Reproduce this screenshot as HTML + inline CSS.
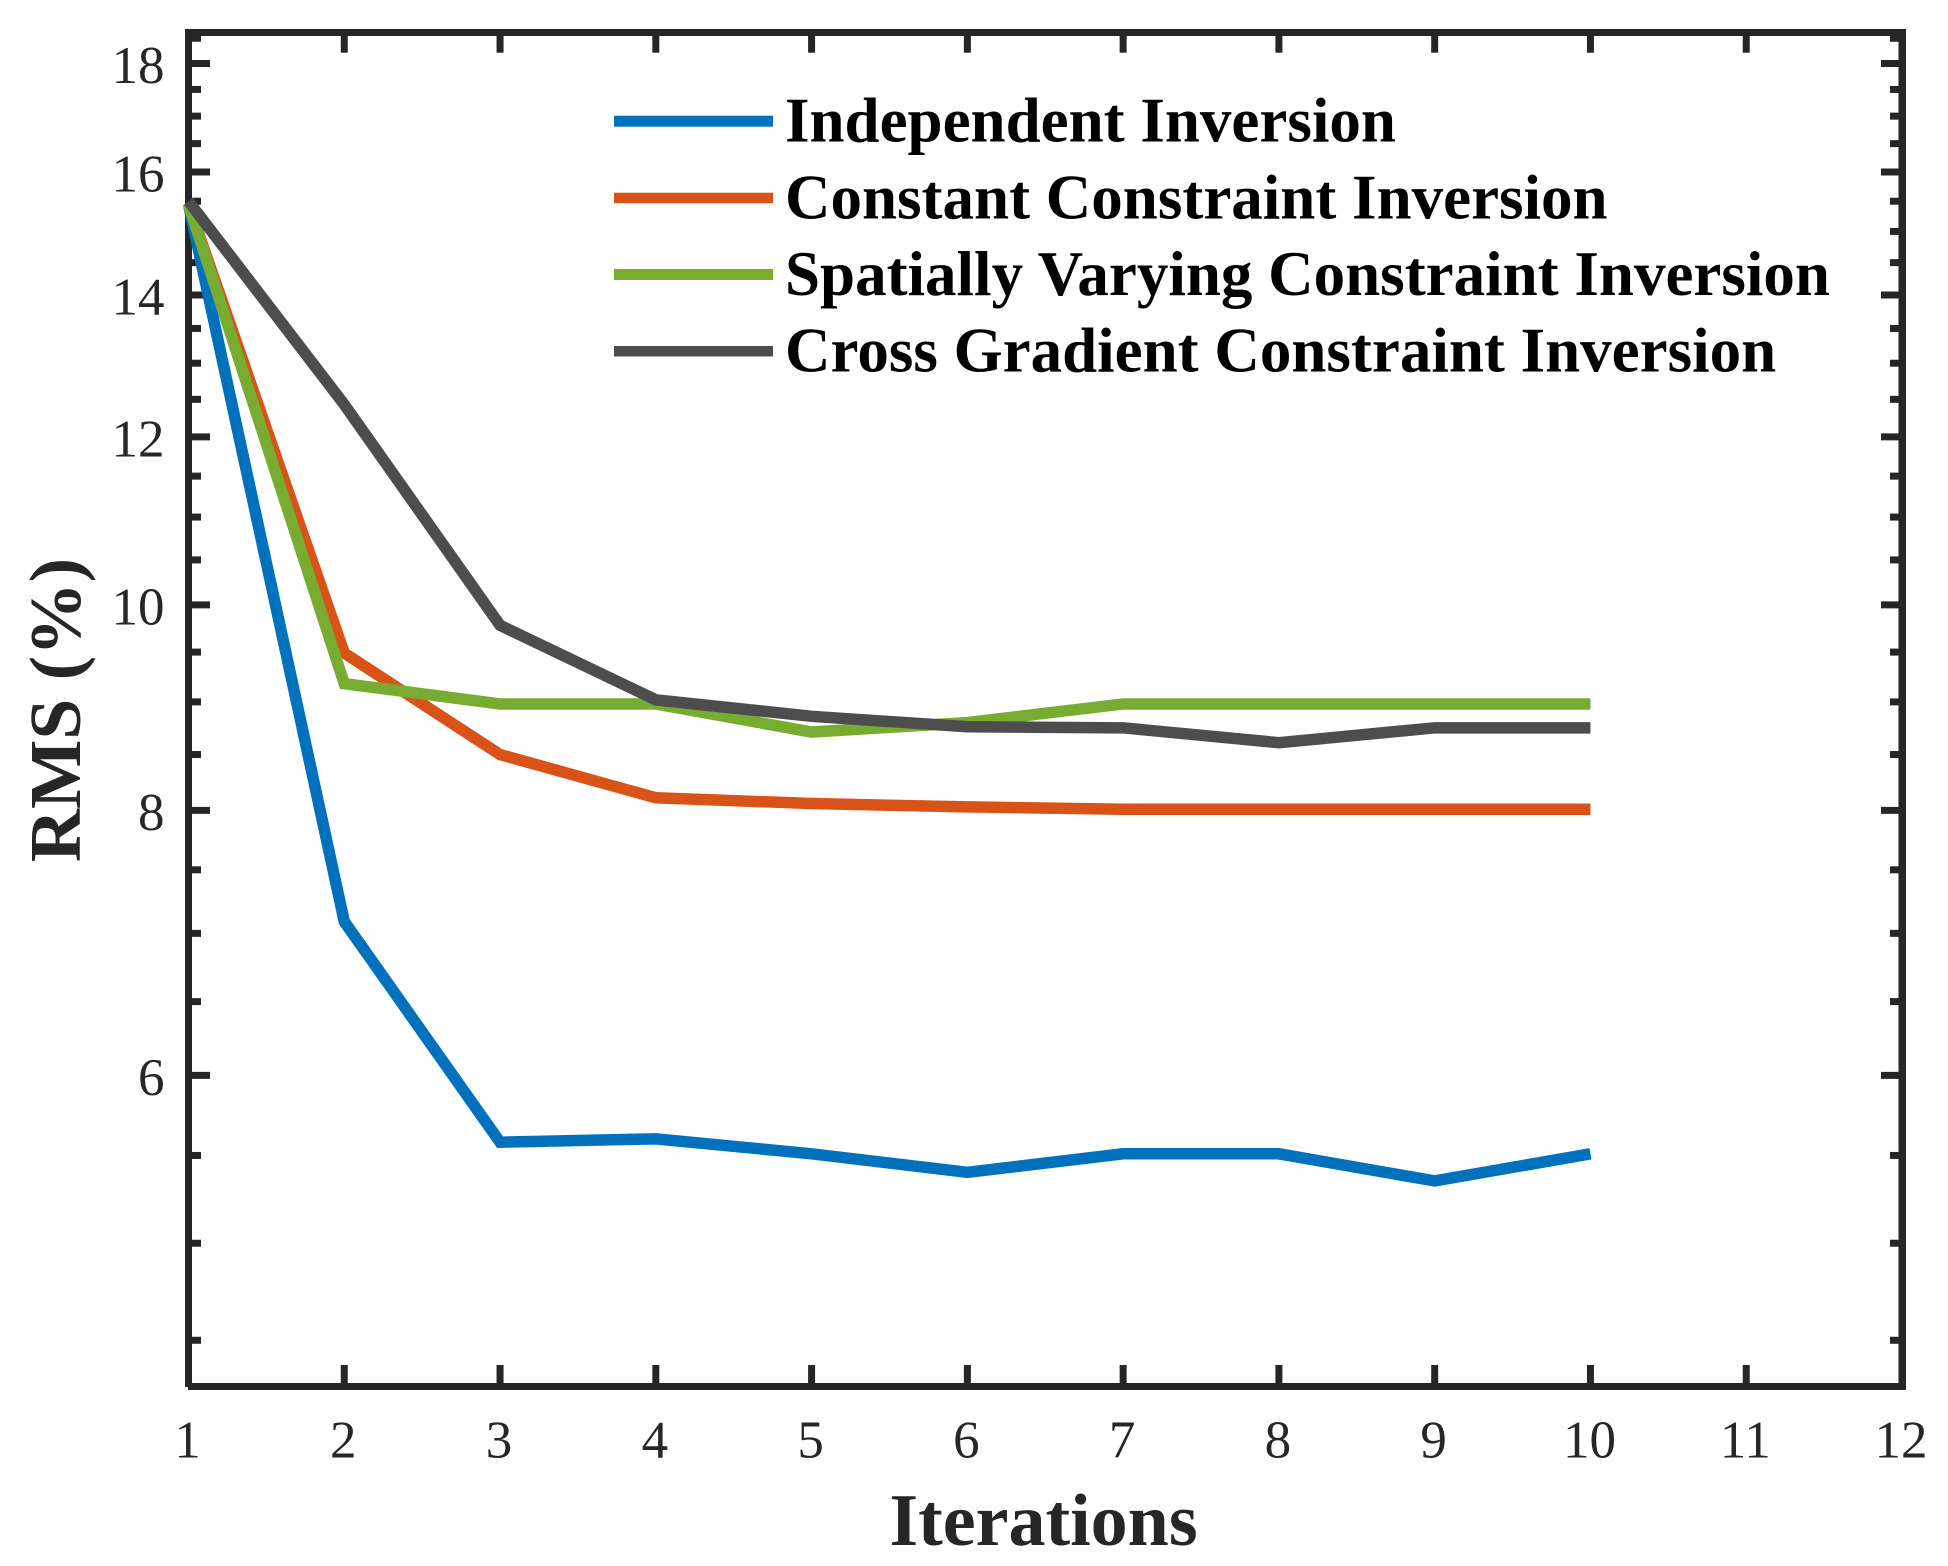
<!DOCTYPE html>
<html lang="en">
<head>
<meta charset="utf-8">
<title>RMS vs Iterations</title>
<style>
  html, body { margin: 0; padding: 0; background: #fff; }
  svg { display: block; }
  text { font-family: "Liberation Serif", "Times New Roman", serif; }
  .tick-label { font-size: 53px; fill: #262626; }
  .legend-label { font-size: 63px; font-weight: bold; fill: #000; }
  .x-title { font-size: 74px; font-weight: bold; fill: #262626; }
  .y-title { font-size: 73.5px; font-weight: bold; fill: #262626; }
  .series { fill: none; stroke-width: 11.5; stroke-linejoin: miter; stroke-linecap: butt; }
</style>
</head>
<body>
<svg xmlns="http://www.w3.org/2000/svg" width="1948" height="1566" viewBox="0 0 1948 1566">
  <rect x="0" y="0" width="1948" height="1566" fill="#ffffff"/>

  <g id="ticks"></g>

  <g>
    <rect x="185" y="29" width="1721" height="7" fill="#262626"/>
    <rect x="185" y="29" width="7" height="1358" fill="#262626"/>
    <rect x="188" y="1383" width="1718" height="7" fill="#262626"/>
    <rect x="1898.5" y="29" width="7.5" height="1361" fill="#262626"/>
  </g>

  <g id="tick-labels"></g>

  <g>
    <polyline id="line-independent" class="series" stroke="#0072BD"/>
    <polyline id="line-constant" class="series" stroke="#D95319"/>
    <polyline id="line-spatial" class="series" stroke="#77AC30"/>
    <polyline id="line-cross" class="series" stroke="#4D4D4D"/>
  </g>

  <g>
    <g>
      <rect x="614" y="115.7" width="159" height="11" fill="#0072BD"/>
      <text class="legend-label" x="785" y="141.7">Independent Inversion</text>
    </g>
    <g>
      <rect x="614" y="192.7" width="159" height="10.5" fill="#D95319"/>
      <text class="legend-label" x="785" y="218.3">Constant Constraint Inversion</text>
    </g>
    <g>
      <rect x="614" y="269" width="159" height="11" fill="#77AC30"/>
      <text class="legend-label" x="785" y="295">Spatially Varying Constraint Inversion</text>
    </g>
    <g>
      <rect x="614" y="346" width="159" height="10.5" fill="#4D4D4D"/>
      <text class="legend-label" x="785" y="371.5">Cross Gradient Constraint Inversion</text>
    </g>
  </g>

  <text class="x-title" x="1043.5" y="1545" text-anchor="middle">Iterations</text>
  <text class="y-title" transform="translate(80 710) rotate(-90)" x="0" y="0" text-anchor="middle">RMS (%)</text>
</svg>

<script>
const iterations = [1, 2, 3, 4, 5, 6, 7, 8, 9, 10];
const independentValues = [15.45, 7.09, 5.58, 5.60, 5.51, 5.40, 5.51, 5.51, 5.35, 5.51];
const constantValues = [15.45, 9.49, 8.50, 8.11, 8.06, 8.03, 8.01, 8.01, 8.01, 8.01];
const spatialValues = [15.45, 9.18, 8.98, 8.98, 8.71, 8.80, 8.98, 8.98, 8.98, 8.98];
const crossValues = [15.5, 12.43, 9.78, 9.02, 8.86, 8.76, 8.75, 8.61, 8.75, 8.75];
const xTickValues = [1, 2, 3, 4, 5, 6, 7, 8, 9, 10, 11, 12];
const yMajorTicks = [6, 8, 10, 12, 14, 16, 18];
const yMinorTicks = [4.5, 5, 5.5, 6.5, 7, 7.5, 8.5, 9, 9.5, 10.5, 11, 11.5, 12.5, 13, 13.5, 14.5, 15, 15.5, 16.5, 17, 17.5, 18.5];

const SVG_NS = 'http://www.w3.org/2000/svg';

function xScale(v) {
  return 188.5 + (v - 1) * (1902 - 188.5) / 11;
}
function yScale(v) {
  return 63.5 + 921 * Math.log(18 / v);
}

function setPoints(id, values) {
  const pts = values.map(function (v, i) {
    return xScale(iterations[i]).toFixed(2) + ',' + yScale(v).toFixed(2);
  });
  document.getElementById(id).setAttribute('points', pts.join(' '));
}
setPoints('line-independent', independentValues);
setPoints('line-constant', constantValues);
setPoints('line-spatial', spatialValues);
setPoints('line-cross', crossValues);

const tickGroup = document.getElementById('ticks');
const labelGroup = document.getElementById('tick-labels');

function tickLine(x1, y1, x2, y2, name) {
  const el = document.createElementNS(SVG_NS, 'line');
  el.setAttribute('x1', x1);
  el.setAttribute('y1', y1);
  el.setAttribute('x2', x2);
  el.setAttribute('y2', y2);
  el.setAttribute('stroke', '#262626');
  el.setAttribute('stroke-width', '7');
  
  
  tickGroup.appendChild(el);
}

function tickText(x, y, anchor, str, name) {
  const el = document.createElementNS(SVG_NS, 'text');
  el.setAttribute('class', 'tick-label');
  el.setAttribute('x', x);
  el.setAttribute('y', y);
  el.setAttribute('text-anchor', anchor);
  el.textContent = str;
  
  
  labelGroup.appendChild(el);
}

xTickValues.forEach(function (v) {
  const x = xScale(v);
  if (v > 1 && v < 12) {
    tickLine(x, 36, x, 52.7, 'x-tick-top');
    tickLine(x, 1383, x, 1365, 'x-tick-bottom');
  }
  tickText(x - 1, 1457.7, 'middle', String(v), 'x-tick-label');
});

yMajorTicks.forEach(function (v) {
  const y = yScale(v);
  tickLine(192, y, 210, y, 'y-major-tick-left');
  tickLine(1898.5, y, 1881, y, 'y-major-tick-right');
  tickText(164.5, y + 19.5, 'end', String(v), 'y-tick-label');
});

yMinorTicks.forEach(function (v) {
  const y = yScale(v);
  tickLine(192, y, 201, y, 'y-minor-tick-left');
  tickLine(1898.5, y, 1890, y, 'y-minor-tick-right');
});
</script>
</body>
</html>
